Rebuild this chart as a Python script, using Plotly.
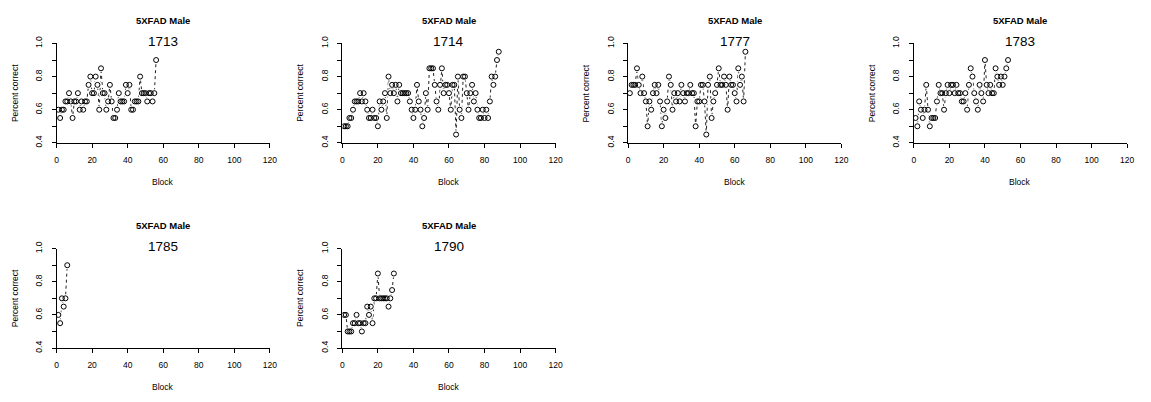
import plotly.graph_objects as go

# Percent correct per training block, one list per animal (5XFAD males)
mouse_ids = ["1713", "1714", "1777", "1783", "1785", "1790"]

pc_1713 = [0.6, 0.55, 0.6, 0.6, 0.65, 0.65, 0.7, 0.65, 0.55, 0.65,
           0.65, 0.7, 0.6, 0.65, 0.6, 0.65, 0.65, 0.75, 0.8, 0.7,
           0.7, 0.8, 0.75, 0.6, 0.85, 0.7, 0.7, 0.6, 0.65, 0.75,
           0.65, 0.55, 0.55, 0.6, 0.7, 0.65, 0.65, 0.65, 0.75, 0.7,
           0.75, 0.6, 0.6, 0.65, 0.65, 0.65, 0.8, 0.7, 0.7, 0.7,
           0.65, 0.7, 0.7, 0.65, 0.7, 0.9]

pc_1714 = [0.5, 0.5, 0.5, 0.55, 0.55, 0.6, 0.65, 0.65, 0.65, 0.7,
           0.65, 0.7, 0.65, 0.6, 0.55, 0.55, 0.6, 0.55, 0.55, 0.5,
           0.65, 0.6, 0.65, 0.7, 0.55, 0.8, 0.7, 0.75, 0.7, 0.75,
           0.65, 0.75, 0.7, 0.7, 0.7, 0.7, 0.7, 0.65, 0.6, 0.55,
           0.6, 0.75, 0.65, 0.6, 0.5, 0.55, 0.7, 0.6, 0.85, 0.85,
           0.85, 0.75, 0.65, 0.6, 0.75, 0.85, 0.7, 0.75, 0.75, 0.7,
           0.6, 0.75, 0.75, 0.45, 0.8, 0.6, 0.55, 0.8, 0.8, 0.7,
           0.6, 0.7, 0.75, 0.65, 0.7, 0.6, 0.55, 0.55, 0.6, 0.55,
           0.6, 0.55, 0.65, 0.8, 0.75, 0.8, 0.9, 0.95]

pc_1777 = [0.7, 0.75, 0.75, 0.75, 0.85, 0.75, 0.7, 0.8, 0.7, 0.65,
           0.5, 0.65, 0.6, 0.7, 0.75, 0.7, 0.75, 0.65, 0.5, 0.6,
           0.55, 0.65, 0.8, 0.75, 0.6, 0.7, 0.65, 0.7, 0.65, 0.75,
           0.7, 0.65, 0.7, 0.7, 0.75, 0.7, 0.7, 0.5, 0.65, 0.65,
           0.75, 0.75, 0.65, 0.45, 0.75, 0.8, 0.55, 0.65, 0.7, 0.75,
           0.85, 0.75, 0.75, 0.8, 0.75, 0.6, 0.8, 0.75, 0.75, 0.7,
           0.65, 0.85, 0.75, 0.8, 0.65, 0.95]

pc_1783 = [0.55, 0.5, 0.65, 0.6, 0.55, 0.6, 0.75, 0.6, 0.5, 0.55,
           0.55, 0.55, 0.65, 0.75, 0.7, 0.7, 0.6, 0.7, 0.75, 0.7,
           0.75, 0.75, 0.7, 0.75, 0.7, 0.7, 0.65, 0.65, 0.7, 0.6,
           0.75, 0.85, 0.8, 0.7, 0.65, 0.6, 0.75, 0.7, 0.65, 0.9,
           0.75, 0.7, 0.75, 0.7, 0.7, 0.85, 0.8, 0.75, 0.8, 0.75,
           0.8, 0.85, 0.9]

pc_1785 = [0.6, 0.55, 0.7, 0.65, 0.7, 0.9]

pc_1790 = [0.6, 0.6, 0.5, 0.5, 0.5, 0.55, 0.55, 0.6, 0.55, 0.55,
           0.5, 0.55, 0.55, 0.65, 0.6, 0.65, 0.55, 0.7, 0.7, 0.85,
           0.7, 0.7, 0.7, 0.7, 0.7, 0.65, 0.7, 0.75, 0.85]

series = [pc_1713, pc_1714, pc_1777, pc_1783, pc_1785, pc_1790]

x_ticks = [0, 20, 40, 60, 80, 100, 120]
y_ticks = [0.4, 0.5, 0.6, 0.7, 0.8, 0.9, 1.0]
y_ticktext = ["0.4", "", "0.6", "", "0.8", "", "1.0"]

main_title = "5XFAD Male"
x_title = "Block"
y_title = "Percent correct"

# ---- page geometry (pixels) ----
W, H = 1151, 402
COL_STEP = 288.0
ROW_STEP = 211.5
LEFT0 = 55.0
PLOT_W = 215.0
TOP0 = 37.6
BOT0 = 140.0

FONT = "Liberation Sans, Arial, Helvetica, sans-serif"


def fx(p):
    return p / W


def fy(p):
    return 1 - p / H


fig = go.Figure()
annotations = []

for i, (mid, vals) in enumerate(zip(mouse_ids, series)):
    row, col = divmod(i, 4)
    x0 = LEFT0 + COL_STEP * col
    x1 = x0 + PLOT_W
    ytop = TOP0 + ROW_STEP * row
    ybot = BOT0 + ROW_STEP * row
    n = i + 1
    xa = "x" if n == 1 else f"x{n}"
    ya = "y" if n == 1 else f"y{n}"
    blocks = list(range(1, len(vals) + 1))

    # dashed connecting line
    fig.add_trace(go.Scatter(
        x=blocks, y=vals, mode="lines", xaxis=xa, yaxis=ya,
        line=dict(color="#222222", width=1, dash="3px,3px"),
        hoverinfo="skip", showlegend=False))
    # white discs so the line stops short of each point (type "b" look)
    fig.add_trace(go.Scatter(
        x=blocks, y=vals, mode="markers", xaxis=xa, yaxis=ya,
        marker=dict(symbol="circle", size=8, color="white",
                    line=dict(width=0)),
        hoverinfo="skip", showlegend=False))
    # open circles
    fig.add_trace(go.Scatter(
        x=blocks, y=vals, mode="markers", xaxis=xa, yaxis=ya,
        marker=dict(symbol="circle-open", size=5, color="black",
                    line=dict(width=1, color="black")),
        showlegend=False))

    axis_common = dict(
        showline=True, linecolor="black", linewidth=1,
        ticks="outside", ticklen=4, tickwidth=1, tickcolor="black",
        showgrid=False, zeroline=False,
        tickfont=dict(family=FONT, size=8.5, color="black"),
    )
    fig.layout[f"xaxis{'' if n == 1 else n}"] = dict(
        axis_common, domain=[fx(x0), fx(x1)], range=[0, 120],
        tickvals=x_ticks, anchor=ya, ticklabelstandoff=5)
    fig.layout[f"yaxis{'' if n == 1 else n}"] = dict(
        axis_common, domain=[fy(ybot), fy(ytop)], range=[0.4, 1.0],
        tickvals=y_ticks, ticktext=y_ticktext, tickangle=-90,
        anchor=xa, ticklabelstandoff=6)

    cx = (x0 + x1) / 2
    annotations += [
        dict(text=f"<b>{main_title}</b>", x=fx(cx), y=fy(14 + ROW_STEP * row),
             font=dict(family=FONT, size=9.5, color="black")),
        dict(text=mid, x=fx(cx), y=fy(35.5 + ROW_STEP * row),
             font=dict(family=FONT, size=13.5, color="black")),
        dict(text=x_title, x=fx(cx), y=fy(180 + ROW_STEP * row),
             font=dict(family=FONT, size=8.5, color="black")),
        dict(text=y_title, x=fx(x0 - 42), y=fy((ytop + ybot) / 2),
             textangle=-90,
             font=dict(family=FONT, size=8.5, color="black")),
    ]

for a in annotations:
    a.update(xref="paper", yref="paper", showarrow=False,
             xanchor="center", yanchor="middle")

fig.update_layout(
    width=W, height=H,
    margin=dict(l=0, r=0, t=0, b=0),
    paper_bgcolor="white", plot_bgcolor="white",
    annotations=annotations,
)

fig.write_html("out.html", config={"displayModeBar": False})
